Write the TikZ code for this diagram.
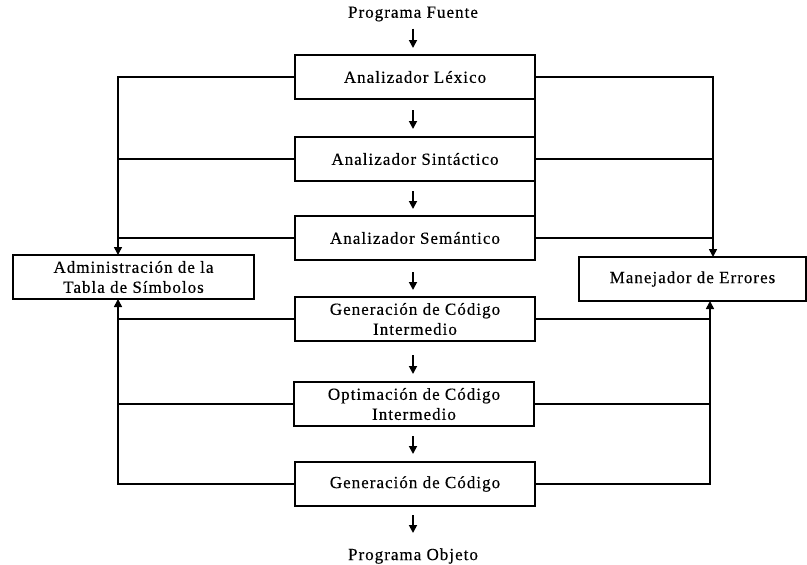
\documentclass[tikz,border=0pt]{standalone}
\usepackage{fontspec}
\setmainfont{Liberation Serif}[LetterSpace=6,FakeBold=0.4]
\usetikzlibrary{arrows.meta,calc}
\begin{document}
\begin{tikzpicture}[x=1pt,y=-1pt,
  txt/.style={font=\fontsize{17}{20}\selectfont},
  stage/.style={txt,draw,line width=1.5pt,outer sep=0pt,minimum width=240pt,minimum height=44pt,inner sep=2pt,align=center},
  side/.style={txt,draw,line width=1.5pt,outer sep=0pt,minimum height=44pt,inner sep=2pt,align=center},
  endtext/.style={txt,inner sep=0pt},
  link/.style={line width=1.6pt},
  tip/.style={-{Triangle[length=8pt,width=8pt]}},
  flow/.style={line width=1.7pt,tip}]
\useasboundingbox (0,0) rectangle (807,565);

% vertical axis of the flow arrows and the two side buses
\coordinate (axis) at (413,0);
\coordinate (lbus) at (118,0);
\coordinate (rbusT) at (713,0);
\coordinate (rbusB) at (710,0);

% compiler phases
\node[endtext] (src) at (413,14) {Programa Fuente};
\node[stage] (lex) at (415,77) {Analizador Léxico};
\node[stage] (sin) at (415,159) {Analizador Sintáctico};
\node[stage] (sem) at (415,238) {Analizador Semántico};
\node[stage] (gci) at (415,319) {Generación de Código\\Intermedio};
\node[stage] (opt) at (414,404) {Optimación de Código\\Intermedio};
\node[stage] (gen) at (415,484) {Generación de Código};
\node[endtext] (obj) at (413,556) {Programa Objeto};

% side components
\node[side,minimum width=241pt] (tab) at (133.5,277) {Administración de la\\Tabla de Símbolos};
\node[side,minimum width=227pt] (err) at (692.5,279) {Manejador de Errores};

% flow between phases
\draw[flow] ($(src.south -| axis)+(0,7)$) -- ($(lex.north -| axis)+(0,-7)$);
\draw[flow] ($(lex.south -| axis)+(0,11)$) -- ($(sin.north -| axis)+(0,-8)$);
\draw[flow] ($(sin.south -| axis)+(0,10)$) -- ($(sem.north -| axis)+(0,-7)$);
\draw[flow] ($(sem.south -| axis)+(0,12)$) -- ($(gci.north -| axis)+(0,-7)$);
\draw[flow] ($(gci.south -| axis)+(0,14)$) -- ($(opt.north -| axis)+(0,-8)$);
\draw[flow] ($(opt.south -| axis)+(0,10)$) -- ($(gen.north -| axis)+(0,-8)$);
\draw[flow] ($(gen.south -| axis)+(0,9)$) -- ($(gen.south -| axis)+(0,27)$);

% symbol table links
\draw[link,tip] (lex.west) -| (tab.north -| lbus);
\draw[link] (sin.west) -- (sin.west -| lbus);
\draw[link] (sem.west) -- (sem.west -| lbus);
\draw[link,tip] (gen.west) -| (tab.south -| lbus);
\draw[link] (gci.west) -- (gci.west -| lbus);
\draw[link] (opt.west) -- (opt.west -| lbus);

% error handler links
\draw[link,tip] (lex.east) -| (err.north -| rbusT);
\draw[link] (sin.east) -- (sin.east -| rbusT);
\draw[link] (sem.east) -- (sem.east -| rbusT);
\draw[link] (lex.south east) -- (sin.north east);
\draw[link] (sin.south east) -- (sem.north east);
\draw[link,tip] (gen.east) -| (err.south -| rbusB);
\draw[link] (gci.east) -- (gci.east -| rbusB);
\draw[link] (opt.east) -- (opt.east -| rbusB);
\end{tikzpicture}
\end{document}
